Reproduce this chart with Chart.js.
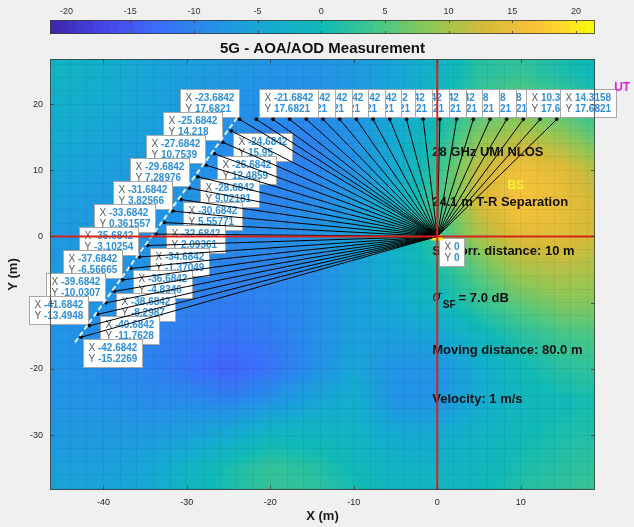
<!DOCTYPE html>
<html>
<head>
<meta charset="utf-8">
<title>5G - AOA/AOD Measurement</title>
<script src="https://cdn.jsdelivr.net/npm/chart.js@4.4.1/dist/chart.umd.min.js"></script>
<style>
  html, body { margin: 0; padding: 0; background: #f0f0f0; }
  canvas { display: block; }
</style>
</head>
<body>
<canvas id="chart" width="634" height="527"></canvas>
<script>
// Axis limits and tick positions
const xLimits = [-46.4, 18.9];
const yLimits = [-38.3, 26.8];
const colorLimits = [-21.3, 21.5];
const xTicks = [-40, -30, -20, -10, 0, 10];
const yTicks = [-30, -20, -10, 0, 10, 20];
const colorTicks = [-20, -15, -10, -5, 0, 5, 10, 15, 20];

// Shadow-fading map (dB) sampled on a 5 m grid
const fieldX = [-45, -40, -35, -30, -25, -20, -15, -10, -5, 0, 5, 10, 15, 20];
const fieldY = [25, 20, 15, 10, 5, 0, -5, -10, -15, -20, -25, -30, -35, -40];
const fieldValues = [
  [-2, -3, -5, -6, -7, -8, -8, -7, -5, -2, 2, 3, 1, -1],
  [-3, -4, -5, -7, -8, -9, -9, -8, -5, -1, 4, 6, 4, 1],
  [-4, -5, -6, -8, -9, -10, -10, -8, -4, 1, 8, 11, 9, 5],
  [-5, -6, -7, -8, -9, -10, -10, -8, -4, 3, 12, 16, 14, 10],
  [-6, -7, -8, -8, -9, -10, -9, -7, -3, 4, 13, 17, 15, 12],
  [-7, -7, -8, -8, -9, -9, -8, -6, -2, 3, 10, 14, 14, 12],
  [-7, -8, -8, -9, -10, -10, -9, -6, -3, 1, 6, 10, 11, 10],
  [-8, -8, -9, -10, -11, -10, -9, -6, -4, -1, 3, 6, 8, 8],
  [-8, -9, -10, -11, -12, -11, -9, -6, -6, -5, -1, 2, 4, 5],
  [-8, -9, -10, -12, -14, -12, -9, -5, -8, -8, -4, 0, 2, 3],
  [-8, -8, -9, -9, -10, -8, -5, -3, -8, -8, -4, -1, 0, 1],
  [-7, -7, -7, -6, -4, -1, -1, -2, -4, -4, -2, 0, 1, 2],
  [-6, -6, -5, -2, 1, 3, 2, 0, -2, -2, -1, 1, 2, 3],
  [-5, -5, -4, -1, 1, 3, 3, 1, -1, -1, 0, 2, 3, 4]
];

// UE measurement positions (m)
const pathX = [
  -42.6842, -41.6842, -40.6842, -39.6842, -38.6842, -37.6842, -36.6842, -35.6842, -34.6842, -33.6842,
  -32.6842, -31.6842, -30.6842, -29.6842, -28.6842, -27.6842, -26.6842, -25.6842, -24.6842, -23.6842,
  -21.6842, -19.6842, -17.6842, -15.6842, -13.6842, -11.6842, -9.6842, -7.6842, -5.6842, -3.6842,
  -1.6842, 0.3158, 2.3158, 4.3158, 6.3158, 8.3158, 10.3158, 12.3158, 14.3158
];
const pathY = [
  -15.2269, -13.4948, -11.7628, -10.0307, -8.2987, -6.56665, -4.8346, -3.10254, -1.37049, 0.361557,
  2.09361, 3.82566, 5.55771, 7.28976, 9.02181, 10.7539, 12.4859, 14.218, 15.95, 17.6821,
  17.6821, 17.6821, 17.6821, 17.6821, 17.6821, 17.6821, 17.6821, 17.6821, 17.6821, 17.6821,
  17.6821, 17.6821, 17.6821, 17.6821, 17.6821, 17.6821, 17.6821, 17.6821, 17.6821
];

// UE route (dashed)
const routeX = [-43.4, -24.0];
const routeY = [-16.0, 17.9];

// BS position
const bsX = [0];
const bsY = [0];

// Text notes placed in axis units
const notes = [
  { text: '28 GHz UMi NLOS', x: -0.6, y: 12.7 },
  { text: '24.1 m T-R Separation', x: -0.6, y: 5.2 },
  { text: 'SF corr. distance: 10 m', x: -0.6, y: -2.2 },
  { text: 'Moving distance: 80.0 m', x: -0.6, y: -17.25 },
  { text: 'Velocity: 1 m/s', x: -0.6, y: -24.6 }
];
const sigmaNote = { x: -0.6, y: -9.3 };
const bsNote = { text: 'BS', x: 9.4, y: 7.7 };
const utNote = { text: 'UT', x: 21.2, y: 22.4 };

const FONT = '"Liberation Sans", Arial, Helvetica, sans-serif';

// parula-like colour ramp
const PARULA = [
  [62, 38, 168], [71, 69, 233], [60, 110, 250], [36, 145, 231], [22, 170, 210],
  [16, 186, 183], [70, 199, 137], [145, 199, 85], [215, 186, 58], [253, 196, 58], [249, 251, 14]
];
function parula(t) {
  t = Math.max(0, Math.min(1, t));
  const n = PARULA.length - 1;
  const f = t * n;
  const i = Math.min(n - 1, Math.floor(f));
  const r = f - i;
  return PARULA[i].map((c, k) => Math.round(c + (PARULA[i + 1][k] - c) * r));
}
function colorFor(v) {
  return parula((v - colorLimits[0]) / (colorLimits[1] - colorLimits[0]));
}
function fieldAt(x, y) {
  let i = 0;
  while (i < fieldX.length - 2 && x > fieldX[i + 1]) i++;
  let tx = (x - fieldX[i]) / (fieldX[i + 1] - fieldX[i]);
  tx = Math.max(0, Math.min(1, tx));
  let j = 0;
  while (j < fieldY.length - 2 && y < fieldY[j + 1]) j++;
  let ty = (y - fieldY[j]) / (fieldY[j + 1] - fieldY[j]);
  ty = Math.max(0, Math.min(1, ty));
  const a = fieldValues[j][i], b = fieldValues[j][i + 1];
  const c = fieldValues[j + 1][i], d = fieldValues[j + 1][i + 1];
  return (a * (1 - tx) + b * tx) * (1 - ty) + (c * (1 - tx) + d * tx) * ty;
}
function fmt(v) { return String(parseFloat(v.toPrecision(6))); }

function drawTip(ctx, px, py, xv, yv, place) {
  const xs = fmt(xv), ys = fmt(yv);
  ctx.font = '10px ' + FONT;
  const lw = ctx.measureText('X ').width;
  ctx.font = 'bold 10px ' + FONT;
  const vw = Math.max(ctx.measureText(xs).width, ctx.measureText(ys).width);
  const w = Math.round(lw + vw + 10), h = 28;
  let bx, by;
  if (place === 'nw') { bx = px - w - 1; by = py - h - 2; }
  else if (place === 'ne') { bx = px + 3; by = py - h - 2; }
  else { bx = px + 2; by = py + 2; }
  bx = Math.round(bx) + 0.5; by = Math.round(by) + 0.5;
  ctx.fillStyle = '#ffffff';
  ctx.fillRect(bx, by, w, h);
  ctx.strokeStyle = '#a8a8a8';
  ctx.lineWidth = 1;
  ctx.strokeRect(bx, by, w, h);
  ctx.textBaseline = 'middle';
  ctx.textAlign = 'left';
  ctx.font = '10px ' + FONT;
  ctx.fillStyle = '#5a5a5a';
  ctx.fillText('X', bx + 5, by + 8.5);
  ctx.fillText('Y', bx + 5, by + 19.5);
  ctx.font = 'bold 10px ' + FONT;
  ctx.fillStyle = '#2f8fd8';
  ctx.fillText(xs, bx + 5 + lw, by + 8.5);
  ctx.fillText(ys, bx + 5 + lw, by + 19.5);
}

const plotPlugin = {
  id: 'plotDecor',
  beforeDraw(chart) {
    const ctx = chart.ctx;
    ctx.save();
    ctx.fillStyle = '#f0f0f0';
    ctx.fillRect(0, 0, chart.width, chart.height);
    // shadow-fading surface
    const xs = chart.scales.x, ys = chart.scales.y;
    const a = chart.chartArea;
    const L = Math.round(a.left), T = Math.round(a.top);
    const W = Math.round(a.right) - L, H = Math.round(a.bottom) - T;
    const img = ctx.createImageData(W, H);
    for (let j = 0; j < H; j++) {
      const yv = ys.getValueForPixel(T + j + 0.5);
      for (let i = 0; i < W; i++) {
        const xv = xs.getValueForPixel(L + i + 0.5);
        const c = colorFor(fieldAt(xv, yv));
        const k = (j * W + i) * 4;
        img.data[k] = c[0]; img.data[k + 1] = c[1]; img.data[k + 2] = c[2]; img.data[k + 3] = 255;
      }
    }
    ctx.putImageData(img, L, T);
    // colour bar, 64 levels
    const cb = chart.scales.cb;
    const cTop = 20, cBot = 34;
    for (let px = Math.round(cb.left); px < Math.round(cb.right); px++) {
      const v = cb.getValueForPixel(px + 0.5);
      const t = (v - colorLimits[0]) / (colorLimits[1] - colorLimits[0]);
      const q = (Math.floor(Math.min(0.9999, Math.max(0, t)) * 64) + 0.5) / 64;
      const c = parula(q);
      ctx.fillStyle = 'rgb(' + c.join(',') + ')';
      ctx.fillRect(px, cTop, 1, cBot - cTop);
    }
    ctx.strokeStyle = '#3a3a3a';
    ctx.lineWidth = 0.8;
    ctx.strokeRect(Math.round(cb.left) + 0.5, cTop + 0.5, Math.round(cb.right) - Math.round(cb.left) - 1, cBot - cTop - 1);
    colorTicks.forEach(v => {
      const px = Math.round(cb.getPixelForValue(v)) + 0.5;
      ctx.beginPath();
      ctx.moveTo(px, cTop); ctx.lineTo(px, cTop + 3);
      ctx.moveTo(px, cBot); ctx.lineTo(px, cBot - 3);
      ctx.stroke();
    });
    ctx.restore();
  },
  beforeDatasetsDraw(chart) {
    const ctx = chart.ctx;
    const xs = chart.scales.x, ys = chart.scales.y;
    ctx.save();
    // notes
    ctx.fillStyle = '#111111';
    ctx.textBaseline = 'middle';
    ctx.textAlign = 'left';
    ctx.font = 'bold 13px ' + FONT;
    notes.forEach(n => ctx.fillText(n.text, xs.getPixelForValue(n.x), ys.getPixelForValue(n.y)));
    const sx = xs.getPixelForValue(sigmaNote.x), sy = ys.getPixelForValue(sigmaNote.y);
    ctx.font = 'italic 14px "DejaVu Serif", serif';
    ctx.fillText('\u03c3', sx, sy - 1);
    const sw = ctx.measureText('\u03c3').width;
    ctx.font = 'bold 10px ' + FONT;
    ctx.fillText('SF', sx + sw + 1, sy + 7);
    const fw = ctx.measureText('SF').width;
    ctx.font = 'bold 13px ' + FONT;
    ctx.fillText('= 7.0 dB', sx + sw + fw + 4, sy);
    ctx.fillStyle = '#f4f236';
    ctx.font = 'bold 12px ' + FONT;
    ctx.textAlign = 'center';
    ctx.fillText(bsNote.text, xs.getPixelForValue(bsNote.x), ys.getPixelForValue(bsNote.y));

    // data tips
    const n = pathX.length;
    const corner = pathY.indexOf(Math.max(...pathY));
    const P = i => [xs.getPixelForValue(pathX[i]), ys.getPixelForValue(pathY[i])];
    const tip = (i, place) => { const p = P(i); drawTip(ctx, p[0], p[1], pathX[i], pathY[i], place); };
    // along the top leg: boxes further left sit on top
    for (let i = n - 2; i > corner; i--) if (i !== n - 3) tip(i, 'ne');
    tip(n - 3, 'ne');
    tip(n - 1, 'ne');
    // slanted leg, outer column
    for (let i = corner; i >= 1; i -= 2) tip(i, 'nw');
    // slanted leg, inner column
    for (let i = corner - 1; i >= 0; i -= 2) tip(i, 'se');
    // base station
    drawTip(ctx, xs.getPixelForValue(bsX[0]), ys.getPixelForValue(bsY[0]), bsX[0], bsY[0], 'se');
    ctx.restore();
  },
  afterDraw(chart) {
    const ctx = chart.ctx;
    const a = chart.chartArea;
    const xs = chart.scales.x, ys = chart.scales.y;
    ctx.save();
    ctx.strokeStyle = '#3c3c3c';
    ctx.lineWidth = 0.8;
    ctx.strokeRect(Math.round(a.left) + 0.5, Math.round(a.top) + 0.5, Math.round(a.right - a.left) - 1, Math.round(a.bottom - a.top) - 1);
    ctx.beginPath();
    xTicks.forEach(v => {
      const px = Math.round(xs.getPixelForValue(v)) + 0.5;
      ctx.moveTo(px, a.bottom); ctx.lineTo(px, a.bottom - 4);
      ctx.moveTo(px, a.top); ctx.lineTo(px, a.top + 4);
    });
    yTicks.forEach(v => {
      const py = Math.round(ys.getPixelForValue(v)) + 0.5;
      ctx.moveTo(a.left, py); ctx.lineTo(a.left + 4, py);
      ctx.moveTo(a.right, py); ctx.lineTo(a.right - 4, py);
    });
    ctx.stroke();
    // title
    ctx.fillStyle = '#111111';
    ctx.font = 'bold 15px ' + FONT;
    ctx.textAlign = 'center';
    ctx.textBaseline = 'middle';
    ctx.fillText('5G - AOA/AOD Measurement', (a.left + a.right) / 2, 49);
    // UT label
    ctx.fillStyle = '#e01ee0';
    ctx.font = 'bold 12px ' + FONT;
    ctx.textAlign = 'left';
    ctx.fillText(utNote.text, xs.getPixelForValue(utNote.x), ys.getPixelForValue(utNote.y));
    ctx.restore();
  }
};

// rays from BS to every measurement position
const rayData = [];
pathX.forEach((x, i) => {
  rayData.push({ x: bsX[0], y: bsY[0] }, { x: x, y: pathY[i] }, { x: x, y: null });
});

const fixedTicks = list => scale => { scale.ticks = list.map(v => ({ value: v })); };
const gridTicks = (lo, hi, step) => scale => {
  const t = [];
  for (let v = Math.ceil(lo / step) * step; v <= hi; v += step) t.push({ value: v });
  scale.ticks = t;
};
const tickFont = { family: FONT, size: 9 };

new Chart(document.getElementById('chart'), {
  type: 'scatter',
  data: {
    datasets: [
      {
        data: [{ x: 0, y: yLimits[0] }, { x: 0, y: yLimits[1] }],
        showLine: true, borderColor: '#d4241c', borderWidth: 2, pointRadius: 0,
        xAxisID: 'x', yAxisID: 'y'
      },
      {
        data: [{ x: xLimits[0], y: 0 }, { x: xLimits[1], y: 0 }],
        showLine: true, borderColor: '#d4241c', borderWidth: 2, pointRadius: 0,
        xAxisID: 'x', yAxisID: 'y'
      },
      {
        data: routeX.map((x, i) => ({ x: x, y: routeY[i] })),
        showLine: true, borderColor: 'rgba(232,248,255,0.95)', borderWidth: 2, borderDash: [5, 3],
        pointRadius: 0, xAxisID: 'x', yAxisID: 'y'
      },
      {
        data: rayData,
        showLine: true, spanGaps: false, borderColor: '#000000', borderWidth: 1,
        pointRadius: c => (c.dataIndex % 3 === 1 ? 1.8 : 0),
        pointBackgroundColor: '#000000', pointBorderWidth: 0,
        xAxisID: 'x', yAxisID: 'y'
      },
      {
        data: bsX.map((x, i) => ({ x: x, y: bsY[i] })),
        pointStyle: 'triangle', pointRadius: 7, pointBackgroundColor: '#f5e61e',
        pointBorderColor: '#f5e61e', xAxisID: 'x', yAxisID: 'y'
      }
    ]
  },
  options: {
    responsive: false,
    animation: false,
    devicePixelRatio: 1,
    events: [],
    layout: { padding: { left: 0, right: 39, top: 0, bottom: 0 } },
    plugins: { legend: { display: false }, tooltip: { enabled: false }, title: { display: false } },
    scales: {
      x: {
        type: 'linear', position: 'bottom', min: xLimits[0], max: xLimits[1],
        afterBuildTicks: fixedTicks(xTicks),
        ticks: { font: tickFont, color: '#262626', padding: 7, autoSkip: false, maxRotation: 0 },
        grid: { display: false, drawTicks: false }, border: { display: false },
        title: { display: true, text: 'X (m)', color: '#1a1a1a', font: { family: FONT, size: 13, weight: 'bold' }, padding: { top: 0, bottom: 3 } },
        afterFit: s => { s.height = 37; }
      },
      y: {
        type: 'linear', position: 'left', min: yLimits[0], max: yLimits[1],
        afterBuildTicks: fixedTicks(yTicks),
        ticks: { font: tickFont, color: '#262626', padding: 7, autoSkip: false },
        grid: { display: false, drawTicks: false }, border: { display: false },
        title: { display: true, text: 'Y (m)', color: '#1a1a1a', font: { family: FONT, size: 13, weight: 'bold' }, padding: { top: 6, bottom: 0 } },
        afterFit: s => { s.width = 50; }
      },
      gx: {
        type: 'linear', axis: 'x', position: 'bottom', min: xLimits[0], max: xLimits[1],
        afterBuildTicks: gridTicks(xLimits[0], xLimits[1], 2),
        ticks: { display: false },
        grid: { color: 'rgba(0,0,0,0.05)', drawTicks: false }, border: { display: false },
        afterFit: s => { s.height = 0; }
      },
      gy: {
        type: 'linear', axis: 'y', position: 'left', min: yLimits[0], max: yLimits[1],
        afterBuildTicks: gridTicks(yLimits[0], yLimits[1], 2),
        ticks: { display: false },
        grid: { color: 'rgba(0,0,0,0.05)', drawTicks: false }, border: { display: false },
        afterFit: s => { s.width = 0; }
      },
      cb: {
        type: 'linear', axis: 'x', position: 'top', min: colorLimits[0], max: colorLimits[1],
        afterBuildTicks: fixedTicks(colorTicks),
        ticks: { font: tickFont, color: '#333333', padding: 42, autoSkip: false, maxRotation: 0 },
        grid: { display: false, drawTicks: false }, border: { display: false },
        afterFit: s => { s.height = 59; }
      }
    }
  },
  plugins: [plotPlugin]
});
</script>
</body>
</html>
